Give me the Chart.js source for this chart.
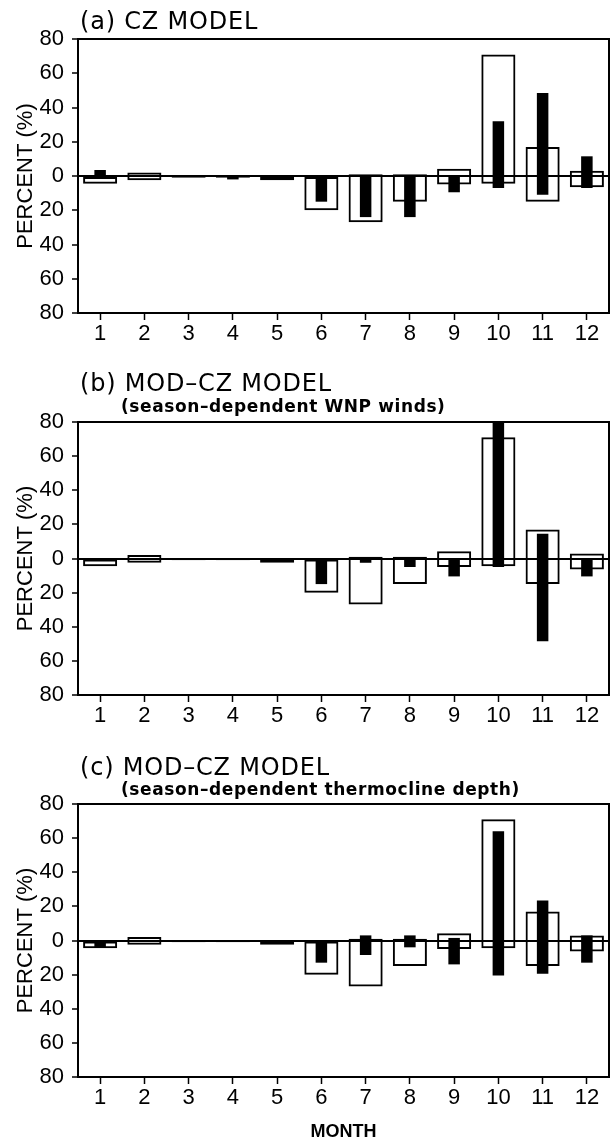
<!DOCTYPE html>
<html>
<head>
<meta charset="utf-8">
<script src="https://cdn.jsdelivr.net/npm/chart.js@4.4.1/dist/chart.umd.min.js"></script>
<style>
  html, body { margin: 0; padding: 0; background: #fff; }
  #page { position: relative; width: 610px; height: 1144px; overflow: hidden; }
  canvas { position: absolute; left: 0; }
  .title { position: absolute; font-family: "DejaVu Sans", sans-serif; font-size: 24px; line-height: 1; letter-spacing: 0.8px; color: #000; white-space: nowrap; z-index: 2; }
  .sub { position: absolute; font-family: "DejaVu Sans", sans-serif; font-weight: bold; font-size: 17px; line-height: 1; letter-spacing: 0.6px; color: #000; white-space: nowrap; z-index: 2; }
</style>
</head>
<body>
<div id="page">
  <div class="title" style="left:80px; top:9px;">(a) CZ MODEL</div>
  <div class="title" style="left:80px; top:371px;">(b) MOD&#8211;CZ MODEL</div>
  <div class="sub" style="left:121px; top:398px;">(season&#8211;dependent WNP winds)</div>
  <div class="title" style="left:80px; top:755px;">(c) MOD&#8211;CZ MODEL</div>
  <div class="sub" style="left:121px; top:781px;">(season&#8211;dependent thermocline depth)</div>

  <canvas id="chartA" width="610" height="360" style="top:0px; width:610px; height:360px;"></canvas>
  <canvas id="chartB" width="610" height="350" style="top:380px; width:610px; height:350px;"></canvas>
  <canvas id="chartC" width="610" height="384" style="top:760px; width:610px; height:384px;"></canvas>
</div>
<script>
const months = ['1', '2', '3', '4', '5', '6', '7', '8', '9', '10', '11', '12'];

// open boxes (same in all panels)
const obsLow  = [-4.5, -2.5, -1, -1, -2.5, -20, -27, -15, -5, -4.5, -15, -6.5];
const obsHigh = [0, 2, 0, 0, 0, 0, 1, 1, 4.3, 71, 17, 3];

// (a) CZ model
const czLow  = [-1.5, null, null, -2, null, -15, -24, -24, -9.5, -7, -11, -7];
const czHigh = [3.5, null, null, 0, null, 0, 0, 0, 0, 32, 48.5, 11.5];

// (b) season-dependent WNP winds
const windLow  = [null, null, null, null, -1, -15, -2.5, -5, -10.5, -5, -48.5, -10.5];
const windHigh = [null, null, null, null, 0, 0, 0, 0, 0, 85, 14.5, 0];

// (c) season-dependent thermocline depth
const thermoLow  = [-4, null, null, null, -2, -13, -8.5, -4, -14, -20.5, -19.5, -13];
const thermoHigh = [0, null, null, null, 0, 0, 3, 3, 1.5, 64, 23.5, 3];

const yTicks = [-80, -60, -40, -20, 0, 20, 40, 60, 80];

function pairs(lo, hi) {
    return lo.map((v, i) => (v === null || hi[i] === null) ? null : [v, hi[i]]);
}

// full box around the plot area
const framePlugin = {
    id: 'frame',
    afterDraw(chart) {
        const { ctx, chartArea: { left, top, right, bottom } } = chart;
        ctx.save();
        ctx.strokeStyle = '#000';
        ctx.lineWidth = 2;
        ctx.strokeRect(left, top, right - left, bottom - top);
        ctx.restore();
    }
};

function makePanel(id, lo, hi, pad, xHeight, showMonth) {
    const ctx = document.getElementById(id).getContext('2d');
    return new Chart(ctx, {
        type: 'bar',
        data: {
            labels: months,
            datasets: [
                {
                    data: pairs(lo, hi),
                    backgroundColor: '#000',
                    borderWidth: 0,
                    barPercentage: 0.26,
                    categoryPercentage: 1,
                    grouped: false,
                    order: 1
                },
                {
                    data: pairs(obsLow, obsHigh),
                    backgroundColor: 'rgba(0,0,0,0)',
                    borderColor: '#000',
                    borderWidth: 2,
                    borderSkipped: false,
                    barPercentage: 0.77,
                    categoryPercentage: 1,
                    grouped: false,
                    order: 2
                }
            ]
        },
        options: {
            responsive: false,
            animation: false,
            layout: { padding: pad },
            plugins: {
                legend: { display: false },
                tooltip: { enabled: false }
            },
            scales: {
                x: {
                    afterFit(scale) { scale.height = xHeight; },
                    grid: {
                        offset: false,
                        drawOnChartArea: false,
                        color: 'rgba(0,0,0,0)',
                        tickColor: '#000',
                        tickLength: 7,
                        tickWidth: 1.5
                    },
                    border: { display: true, color: '#000', width: 2 },
                    ticks: {
                        color: '#000',
                        padding: 1,
                        font: { family: 'Liberation Sans', size: 22 }
                    },
                    title: {
                        display: showMonth,
                        text: 'MONTH',
                        color: '#000',
                        padding: { top: 0, bottom: 1 },
                        font: { family: 'Liberation Sans', size: 18, weight: 'bold' }
                    }
                },
                y: {
                    min: -80,
                    max: 80,
                    afterFit(scale) { scale.width = 78; },
                    afterBuildTicks(scale) { scale.ticks = yTicks.map(v => ({ value: v })); },
                    grid: {
                        color: c => (c.tick && c.tick.value === 0) ? '#000' : 'rgba(0,0,0,0)',
                        lineWidth: 2,
                        tickColor: '#000',
                        tickLength: 6,
                        tickWidth: 1.5
                    },
                    border: { display: true, color: '#000', width: 2 },
                    ticks: {
                        color: '#000',
                        padding: 8,
                        font: { family: 'Liberation Sans', size: 22 },
                        callback: v => Math.abs(v)
                    },
                    title: {
                        display: true,
                        text: 'PERCENT (%)',
                        color: '#000',
                        padding: { top: 13, bottom: 0 },
                        font: { family: 'Liberation Sans', size: 22 }
                    }
                }
            }
        },
        plugins: [framePlugin]
    });
}

makePanel('chartA', czLow, czHigh, { top: 39, right: 1, bottom: 17, left: 0 }, 30, false);
makePanel('chartB', windLow, windHigh, { top: 42, right: 1, bottom: 5, left: 0 }, 30, false);
makePanel('chartC', thermoLow, thermoHigh, { top: 44, right: 1, bottom: 0, left: 0 }, 67, true);
</script>
</body>
</html>
